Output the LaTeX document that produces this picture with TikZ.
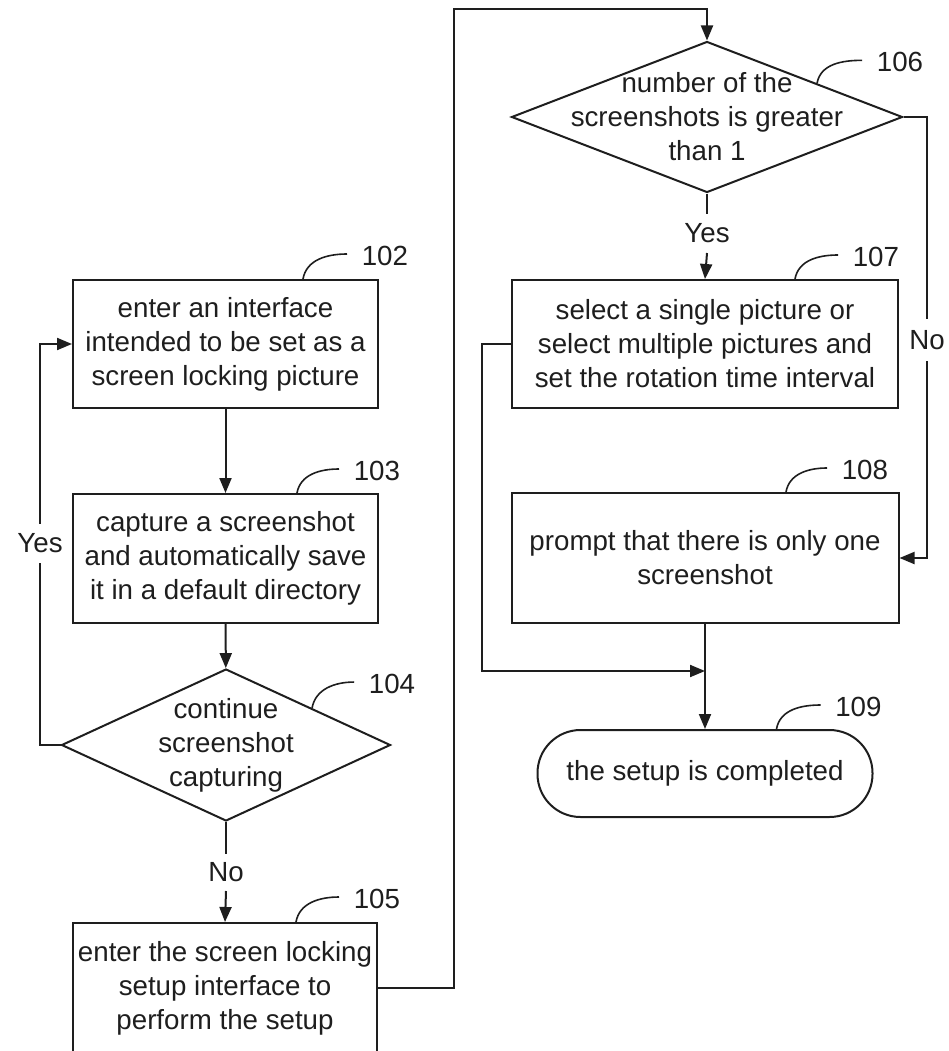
\documentclass[tikz,border=0pt]{standalone}
\usepackage{fontspec}
\setmainfont{Liberation Sans}
\usetikzlibrary{arrows.meta,shapes.geometric,calc}
\definecolor{ink}{HTML}{1E1E1E}
\tikzset{>={Triangle[length=15pt,width=12pt]}}

\begin{document}
\begin{tikzpicture}[
  color=ink, line width=2pt,
  font=\fontsize{27.7pt}{34pt}\selectfont,
  box/.style={draw, rectangle, align=center, inner sep=0pt},
  dec/.style={draw, diamond, inner sep=0pt},
  term/.style={draw, rectangle, rounded corners=43pt, inner sep=0pt},
  lbl/.style={inner sep=0pt, minimum height=37pt},
  num/.style={anchor=west, inner sep=0pt, xshift=14pt, yshift=-2pt},
  leader/.style={line width=1.6pt}]

  \useasboundingbox (0pt,0pt) rectangle (948pt,-1051pt);

  % left column
  \node[box, minimum width=305pt, minimum height=128pt] (b102) at (225.5pt,-344pt)
    {enter an interface\\intended to be set as a\\screen locking picture};
  \node[box, minimum width=305pt, minimum height=129pt] (b103) at (225.5pt,-558.5pt)
    {capture a screenshot\\and automatically save\\it in a default directory};
  \node[dec, minimum width=329pt, minimum height=152pt] (d104) at (226pt,-745pt) {};
  \node[align=center] (t104) at (d104) {continue\\screenshot\\capturing};
  \node[box, minimum width=304pt, minimum height=130pt] (b105) at (225pt,-988pt)
    {enter the screen locking\\setup interface to\\perform the setup};

  % right column
  \node[dec, minimum width=391pt, minimum height=151pt] (d106) at (707pt,-117pt) {};
  \node[align=center] (t106) at (d106) {number of the\\screenshots is greater\\than 1};
  \node[box, minimum width=386pt, minimum height=128pt] (b107) at (705pt,-344pt)
    {select a single picture or\\select multiple pictures and\\set the rotation time interval};
  \node[box, minimum width=387pt, minimum height=130pt] (b108) at (705pt,-558pt)
    {prompt that there is only one\\screenshot};
  \node[term, minimum width=335pt, minimum height=87pt] (e109) at (705pt,-773.5pt)
    {the setup is completed};

  % branch labels
  \node[lbl] (yes104) at (40pt,-543pt) {Yes};
  \node[lbl, minimum height=35pt] (no104) at (226pt,-872.5pt) {No};
  \node[lbl] (yes106) at (707pt,-233.5pt) {Yes};
  \node[lbl, minimum height=40pt] (no106) at (927pt,-340pt) {No};

  \coordinate (top) at (454pt,-9pt);
  \coordinate (merge) at (705pt,-671pt);

  % connectors
  \draw[->] (b102) -- (b103);
  \draw[->] (b103) -- (d104);
  \draw (d104.south) -- (no104.north);
  \draw[->] (no104.south) -- (b105.north);
  \draw (d104.west) -| (yes104.south);
  \draw[->] (yes104.north) |- (b102.west);
  \draw[->] (b105.east) -| (top) -| (d106.north);
  \draw (d106.south) -- (yes106.north);
  \draw[->] (yes106.south) -- (b107.north);
  \draw (d106.east) -| (no106.north);
  \draw[->] (no106.south) |- (b108.east);
  \draw[->] (b107.west) -- ++(-29pt,0pt) |- (merge);
  \draw[->] (b108.south) -- (e109.north);

  % reference numerals
  \draw[leader] ([xshift=77.5pt]b102.north) to[out=80,in=180] ++(44pt,25pt) node[num] (n102) {102};
  \draw[leader] ([xshift=71.5pt]b103.north) to[out=80,in=180] ++(42pt,24pt) node[num] (n103) {103};
  \draw[leader] ($(d104.north)!0.52!(d104.east)$) to[out=80,in=180] ++(42pt,26pt) node[num] (n104) {104};
  \draw[leader] ([xshift=71pt]b105.north) to[out=80,in=180] ++(43pt,25pt) node[num] (n105) {105};
  \draw[leader] ($(d106.north)!0.56!(d106.east)$) to[out=80,in=180] ++(45pt,23pt) node[num] (n106) {106};
  \draw[leader] ([xshift=90pt]b107.north) to[out=80,in=180] ++(43pt,24pt) node[num] (n107) {107};
  \draw[leader] ([xshift=81pt]b108.north) to[out=80,in=180] ++(41pt,24pt) node[num] (n108) {108};
  \draw[leader] ([xshift=71.5pt]e109.north) to[out=80,in=180] ++(44pt,24pt) node[num] (n109) {109};
\end{tikzpicture}
\end{document}
